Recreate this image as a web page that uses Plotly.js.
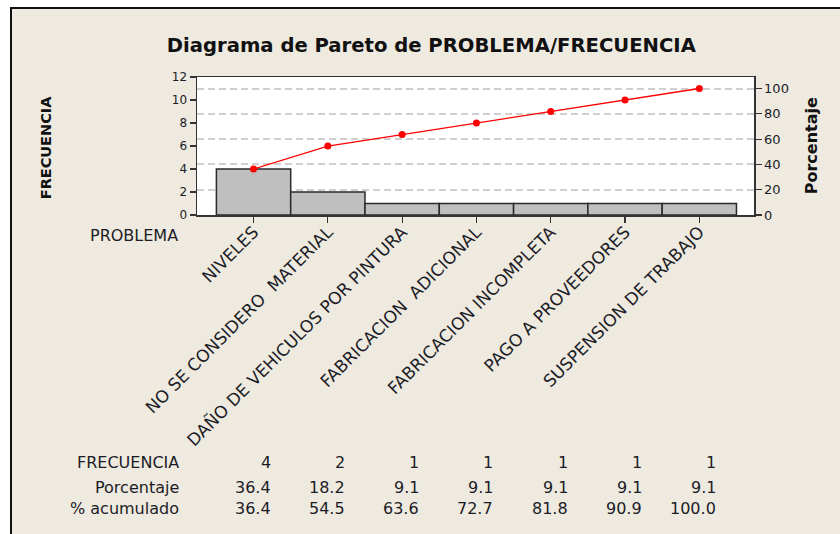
<!DOCTYPE html>
<html>
<head>
<meta charset="utf-8">
<script src="https://cdn.plot.ly/plotly-3.0.1.min.js"></script>
<style>
  html, body { margin: 0; padding: 0; background: #ffffff; width: 840px; height: 534px; overflow: hidden; }
  #chart { position: absolute; left: 10px; top: 7px; width: 828px; height: 525px;
           border-left: 2px solid #111; border-top: 2px solid #111; }
</style>
</head>
<body>
<div id="chart"></div>
<script>
// ---- data ----
const problemas = [
  "NIVELES",
  "NO SE CONSIDERO  MATERIAL",
  "DAÑO DE VEHICULOS POR PINTURA",
  "FABRICACION  ADICIONAL",
  "FABRICACION INCOMPLETA",
  "PAGO A PROVEEDORES",
  "SUSPENSION DE TRABAJO"
];
const frecuencia = [4, 2, 1, 1, 1, 1, 1];
const porcentaje = [36.4, 18.2, 9.1, 9.1, 9.1, 9.1, 9.1];
const acumulado = [36.4, 54.5, 63.6, 72.7, 81.8, 90.9, 100.0];
const freqTicks = [0, 2, 4, 6, 8, 10, 12];
const pctTicks = [0, 20, 40, 60, 80, 100];
const rowLabels = ["FRECUENCIA", "Porcentaje", "% acumulado"];

// ---- derived ----
const total = frecuencia.reduce((a, b) => a + b, 0);
const yMax = freqTicks[freqTicks.length - 1];
const y2Max = yMax / total * 100;

const FONT = "DejaVu Sans, Verdana, sans-serif";
const TXT = "#1c1c26";
const AX = "#333333";

const traces = [
  {
    type: "bar",
    x: problemas,
    y: frecuencia,
    width: 1,
    marker: { color: "#bfbfbf", line: { color: "#2a2a2a", width: 1.5 } },
    hoverinfo: "x+y",
    showlegend: false
  },
  {
    type: "scatter",
    mode: "lines+markers",
    x: problemas,
    y: acumulado,
    yaxis: "y2",
    line: { color: "#ff0000", width: 1.3 },
    marker: { color: "#ff0000", size: 7 },
    showlegend: false
  }
];

// table + labels as annotations
const rowsVals = [
  frecuencia.map(v => String(v)),
  porcentaje.map(v => v.toFixed(1)),
  acumulado.map(v => v.toFixed(1))
];
const rowY = [-1.79, -1.972, -2.13];
const annotations = [];
rowLabels.forEach((lab, r) => {
  annotations.push({
    xref: "paper", yref: "paper", x: -0.028, y: rowY[r],
    xanchor: "right", yanchor: "middle", showarrow: false,
    text: lab, font: { family: FONT, size: 16, color: TXT }
  });
  rowsVals[r].forEach((t, i) => {
    annotations.push({
      xref: "x", yref: "paper", x: problemas[i], y: rowY[r],
      xanchor: "right", yanchor: "middle", xshift: 19, showarrow: false,
      text: t, font: { family: FONT, size: 16, color: TXT }
    });
  });
});
annotations.push({
  xref: "paper", yref: "paper", x: -0.03, y: -0.152,
  xanchor: "right", yanchor: "middle", showarrow: false,
  text: "PROBLEMA", font: { family: FONT, size: 16, color: TXT }
});
annotations.push({
  xref: "paper", yref: "paper", x: -0.2706, y: 0.4855,
  xanchor: "center", yanchor: "middle", showarrow: false, textangle: -90,
  text: "<b>FRECUENCIA</b>", font: { family: FONT, size: 14.5, color: "#111" }
});
annotations.push({
  xref: "paper", yref: "paper", x: 1.1029, y: 0.5,
  xanchor: "center", yanchor: "middle", showarrow: false, textangle: -90,
  text: "<b>Porcentaje</b>", font: { family: FONT, size: 16, color: "#111" }
});

const layout = {
  width: 828,
  height: 525,
  margin: { l: 185, r: 86, t: 68, b: 319, pad: 0 },
  paper_bgcolor: "#eeeae0",
  plot_bgcolor: "#ffffff",
  title: {
    text: "<b>Diagrama de Pareto de PROBLEMA/FRECUENCIA</b>",
    font: { family: FONT, size: 19.6, color: "#111" },
    xref: "paper", x: 0.4207, xanchor: "center",
    yref: "container", y: 0.931, yanchor: "middle"
  },
  xaxis: {
    type: "category",
    range: [-0.761, 6.736],
    showline: true, linecolor: AX, linewidth: 1.5, mirror: true,
    ticks: "outside", ticklen: 6, tickcolor: AX, tickwidth: 1.2,
    tickangle: -45,
    ticklabelstandoff: -7,
    tickfont: { family: FONT, size: 17, color: TXT },
    showgrid: false, zeroline: false, fixedrange: true
  },
  yaxis: {
    range: [0, yMax],
    tickvals: freqTicks,
    showline: true, linecolor: AX, linewidth: 1.5, mirror: true,
    ticks: "outside", ticklen: 6, tickcolor: AX, tickwidth: 1.2,
    tickfont: { family: FONT, size: 12, color: TXT },
    showgrid: false, zeroline: false, fixedrange: true
  },
  yaxis2: {
    overlaying: "y", side: "right",
    range: [0, y2Max],
    tickvals: pctTicks,
    showline: true, linecolor: AX, linewidth: 1.5,
    ticks: "outside", ticklen: 6, tickcolor: AX, tickwidth: 1.2,
    tickfont: { family: FONT, size: 13, color: TXT },
    showgrid: true, gridcolor: "#cfcfcf", gridwidth: 2, griddash: "7px,4px",
    zeroline: false, fixedrange: true
  },
  annotations: annotations,
  bargap: 0,
  showlegend: false
};

Plotly.newPlot("chart", traces, layout, { staticPlot: true, displayModeBar: false });
</script>
</body>
</html>
